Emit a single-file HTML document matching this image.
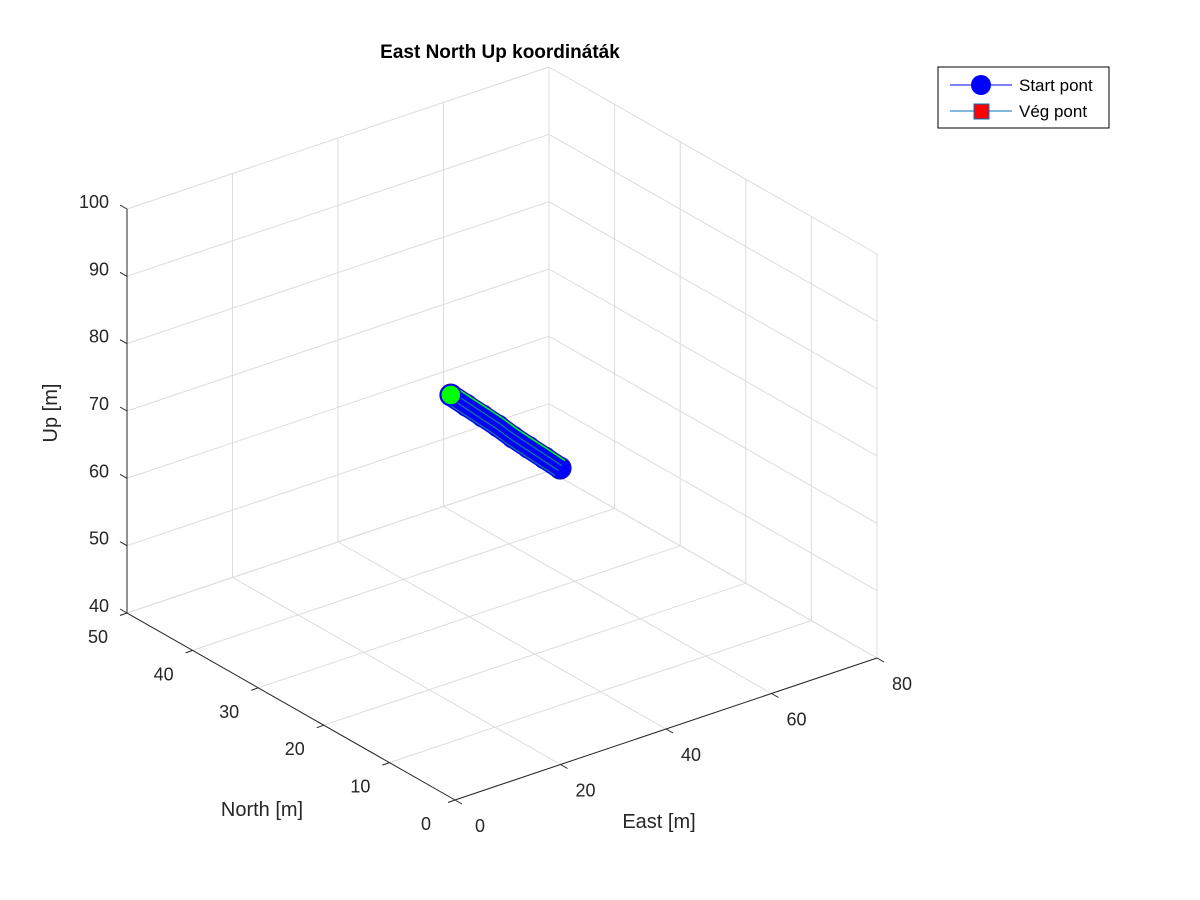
<!DOCTYPE html>
<html><head><meta charset="utf-8"><style>
body{margin:0;background:#fff;}
svg{display:block;font-family:"Liberation Sans",Arial,sans-serif;}
</style></head><body>
<svg id="chart" width="1200" height="900" viewBox="0 0 1200 900" xmlns="http://www.w3.org/2000/svg">
<rect width="1200" height="900" fill="#fff"/>
<text x="500" y="58" text-anchor="middle" font-size="19" font-weight="bold" fill="#000">East North Up koordináták</text>
<g id="grid"></g>
<g id="axes"></g>
<g id="data"></g>
<g>
<rect x="938" y="67" width="171" height="61" fill="#fff" stroke="#000" stroke-width="1"/>
<line x1="950" y1="85" x2="1012" y2="85" stroke="#0000ff" stroke-width="1"/>
<circle cx="981" cy="85" r="10" fill="#0000ff"/>
<text x="1019" y="91" font-size="17" fill="#000">Start pont</text>
<line x1="950" y1="111" x2="1012" y2="111" stroke="#0072bd" stroke-width="1"/>
<rect x="974" y="104" width="15" height="15" fill="#ff0000" stroke="#0072bd" stroke-width="1"/>
<text x="1019" y="117" font-size="17" fill="#000">Vég pont</text>
</g>
</svg>
<script>
const eastTicks=[0,20,40,60,80];
const northTicks=[0,10,20,30,40,50];
const upTicks=[40,50,60,70,80,90,100];
const trackEast=[34.9,35.6,36.3,37.0,37.6,38.3,39.0,39.7];
const trackNorth=[28.7,26.9,25.0,23.2,21.4,19.6,17.7,15.9];
const trackUp=[75.0,74.3,73.6,72.9,72.1,71.4,70.7,70.0];

const NS='http://www.w3.org/2000/svg';
const E0=0,E1=80,N0=0,N1=50,U0=40,U1=100;
function P(e,n,u){
  const x=455+(e-E0)*(422/80)-(n-N0)*(328/50);
  const y=800-(e-E0)*(142/80)-(n-N0)*(187/50)-(u-U0)*(404/60);
  return [x,y];
}
function line(g,a,b,stroke,w,name){
  const l=document.createElementNS(NS,'line');
  l.setAttribute('x1',a[0]);l.setAttribute('y1',a[1]);l.setAttribute('x2',b[0]);l.setAttribute('y2',b[1]);
  l.setAttribute('stroke',stroke);l.setAttribute('stroke-width',w);
  
  
  g.appendChild(l);
}
function text(g,x,y,s,anchor,size,name){
  const t=document.createElementNS(NS,'text');
  t.setAttribute('x',x);t.setAttribute('y',y);t.setAttribute('text-anchor',anchor);
  t.setAttribute('font-size',size);t.setAttribute('fill','#262626');t.textContent=s;
  
  
  g.appendChild(t);
}
const grid=document.getElementById('grid');
const gc='#dcdcdc';
eastTicks.forEach(e=>{
  line(grid,P(e,N0,U0),P(e,N1,U0),gc,1,'grid-line');
  line(grid,P(e,N1,U0),P(e,N1,U1),gc,1,'grid-line');
});
northTicks.forEach(n=>{
  line(grid,P(E0,n,U0),P(E1,n,U0),gc,1,'grid-line');
  line(grid,P(E1,n,U0),P(E1,n,U1),gc,1,'grid-line');
});
upTicks.forEach(u=>{
  line(grid,P(E0,N1,u),P(E1,N1,u),gc,1,'grid-line');
  line(grid,P(E1,N1,u),P(E1,N0,u),gc,1,'grid-line');
});
const ax=document.getElementById('axes');
const ac='#262626';
line(ax,P(E0,N0,U0),P(E1,N0,U0),ac,1,'east-axis');
line(ax,P(E0,N0,U0),P(E0,N1,U0),ac,1,'north-axis');
line(ax,P(E0,N1,U0),P(E0,N1,U1),ac,1,'up-axis');
eastTicks.forEach(e=>{
  const p=P(e,N0,U0);
  line(ax,p,[p[0]+7,p[1]+4],ac,1,'east-tick');
  text(ax,p[0]+25,p[1]+32,String(e),'middle',18,'east-tick-label');
});
northTicks.forEach(n=>{
  const p=P(E0,n,U0);
  line(ax,p,[p[0]-7,p[1]+2.5],ac,1,'north-tick');
  text(ax,p[0]-29,p[1]+30,String(n),'middle',18,'north-tick-label');
});
upTicks.forEach(u=>{
  const p=P(E0,N1,u);
  line(ax,p,[p[0]-7,p[1]-4],ac,1,'up-tick');
  text(ax,p[0]-18,p[1]-1,String(u),'end',18,'up-tick-label');
});
text(ax,659,828,'East [m]','middle',20,'east-axis-title');
text(ax,262,816,'North [m]','middle',20,'north-axis-title');
const ut=document.createElementNS(NS,'text');
ut.setAttribute('transform','translate(57,413) rotate(-90)');
ut.setAttribute('text-anchor','middle');ut.setAttribute('font-size','20');ut.setAttribute('fill','#262626');
ut.textContent='Up [m]';


ax.appendChild(ut);

const dg=document.getElementById('data');
const pts=trackEast.map((e,i)=>P(e,trackNorth[i],trackUp[i]));
for(let i=pts.length-1;i>=0;i--){
  const c=document.createElementNS(NS,'circle');
  c.setAttribute('cx',pts[i][0]);c.setAttribute('cy',pts[i][1]);c.setAttribute('r',11);
  c.setAttribute('fill','#0000ff');c.setAttribute('stroke','#1a1aaa');c.setAttribute('stroke-width',1);
  
  
  dg.appendChild(c);
}
const pl=document.createElementNS(NS,'polyline');
pl.setAttribute('points',pts.map(p=>p.join(',')).join(' '));
pl.setAttribute('fill','none');pl.setAttribute('stroke','#0000ff');pl.setAttribute('stroke-width',22);


dg.appendChild(pl);
[-9,-3,3,9].forEach((off,k)=>{
  const l=document.createElementNS(NS,'polyline');
  l.setAttribute('points',pts.map(p=>(p[0]+off*0.55)+','+(p[1]-off*0.83)).join(' '));
  l.setAttribute('fill','none');l.setAttribute('stroke',k===3?'#00ff00':'#1a7a8a');l.setAttribute('stroke-width',k===3?1.5:1.2);
  
  
  dg.appendChild(l);
});
const sc=document.createElementNS(NS,'circle');
sc.setAttribute('cx',pts[0][0]);sc.setAttribute('cy',pts[0][1]);sc.setAttribute('r',10);
sc.setAttribute('fill','#00ff00');sc.setAttribute('stroke','#0000ff');sc.setAttribute('stroke-width',1.5);


dg.appendChild(sc);
</script>
</body></html>
